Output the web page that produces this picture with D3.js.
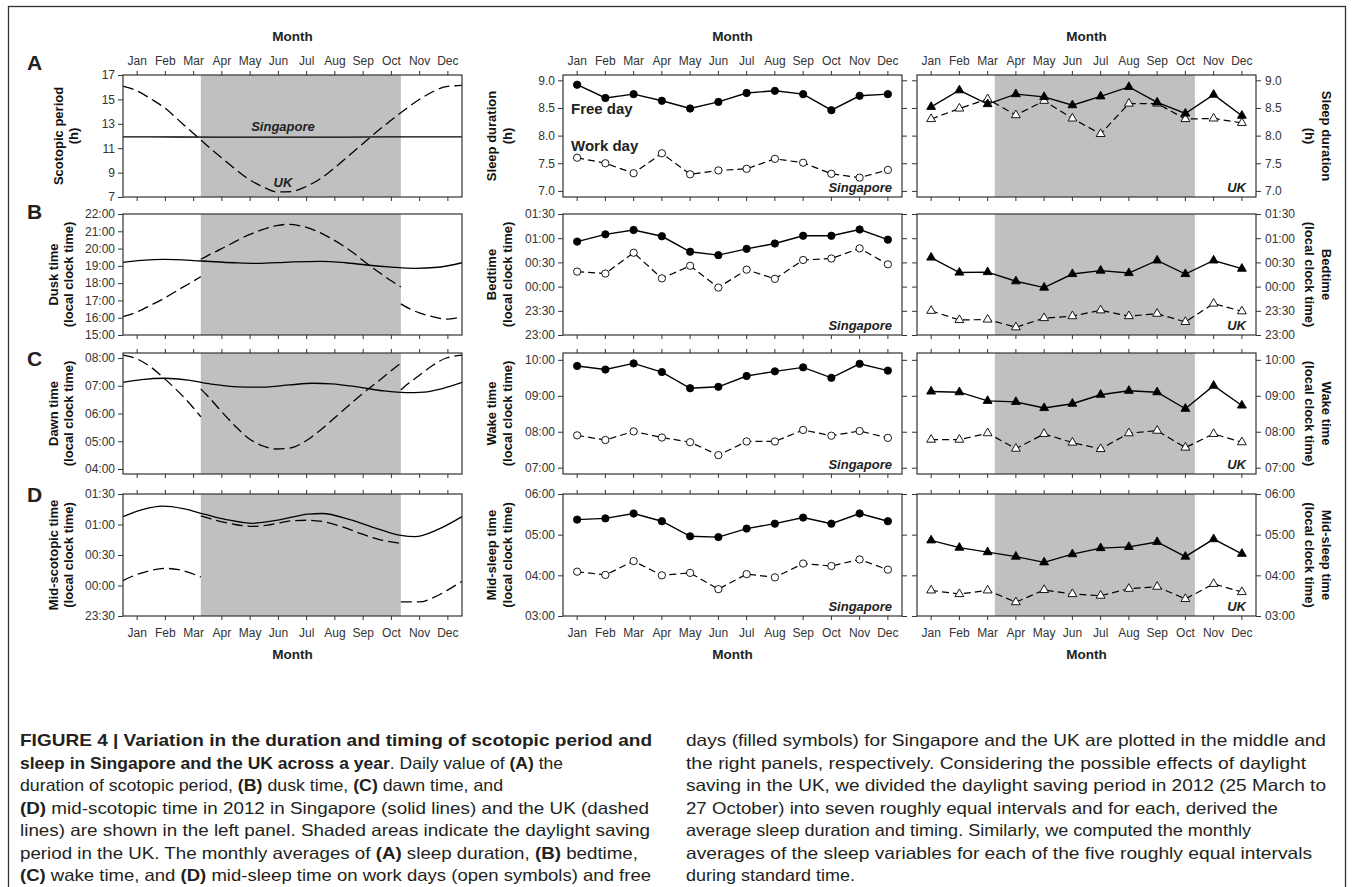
<!DOCTYPE html>
<html>
<head>
<meta charset="utf-8">
<script src="https://cdn.jsdelivr.net/npm/d3@7"></script>
<style>
body { margin: 0; background: #fff; }
svg text { font-family: "Liberation Sans", Arial, sans-serif; fill: #222; }
.tick text { font-size: 12px; fill: #333; }
.tick line { stroke: #333; }
.ttl { font-size: 13px; font-weight: bold; fill: #111; }
.cap { font-family: "Liberation Sans", Arial, sans-serif; font-size: 16.5px; fill: #231f20; }
</style>
</head>
<body>
<script>
// ---- data ----
const months = ["Jan","Feb","Mar","Apr","May","Jun","Jul","Aug","Sep","Oct","Nov","Dec"];
const dstStart = 84, dstEnd = 300;   // 25 Mar, 27 Oct 2012 (day of year)

const sgpScotopic = [[0,11.93],[60,11.92],[120,11.9],[180,11.9],[240,11.91],[300,11.93],[366,11.93]];
const ukScotopic = [[0,16.08],[15,15.7],[31,15.0],[46,14.25],[60,13.3],[74,12.35],[91,11.2],[105,10.3],[121,9.3],[135,8.5],[152,7.8],[166,7.42],[182,7.45],[196,7.8],[213,8.5],[227,9.3],[244,10.4],[258,11.3],[274,12.35],[288,13.2],[305,14.2],[319,14.95],[335,15.65],[349,16.05],[366,16.15]];

const sgpDusk = [[0,19.2],[20,19.32],[45,19.38],[85,19.28],[120,19.18],[145,19.14],[180,19.22],[213,19.26],[240,19.18],[263,19.05],[290,18.93],[315,18.86],[340,18.92],[366,19.18]];
const ukDusk1 = [[0,16.07],[15,16.33],[31,16.75],[46,17.17],[60,17.62],[74,18.05],[84,18.38]];
const ukDuskDst = [[84,19.38],[91,19.58],[105,19.95],[121,20.4],[135,20.78],[152,21.12],[166,21.33],[178,21.4],[190,21.33],[205,21.1],[220,20.72],[236,20.22],[250,19.7],[263,19.15],[277,18.6],[290,18.12],[300,17.78]];
const ukDusk2 = [[300,16.8],[310,16.5],[320,16.28],[335,16.05],[349,15.92],[366,16.05]];

const sgpDawn = [[0,7.12],[20,7.22],[45,7.27],[70,7.2],[95,7.06],[125,6.96],[150,6.95],[180,7.03],[205,7.09],[225,7.07],[255,6.95],[280,6.82],[305,6.75],[325,6.77],[345,6.9],[366,7.12]];
const ukDawn1 = [[0,8.1],[15,7.97],[31,7.65],[46,7.22],[60,6.78],[74,6.28],[84,5.88]];
const ukDawnDst = [[84,6.88],[91,6.65],[105,6.12],[121,5.55],[135,5.12],[152,4.82],[166,4.72],[180,4.75],[196,4.98],[213,5.4],[227,5.8],[244,6.3],[258,6.7],[274,7.12],[288,7.5],[300,7.82]];
const ukDawn2 = [[300,6.85],[305,7.0],[319,7.35],[335,7.75],[349,8.0],[366,8.1]];

// mid-scotopic, hours after midnight (negative = before)
const sgpMidScot = [[0,1.13],[20,1.24],[43,1.3],[65,1.26],[90,1.16],[115,1.07],[140,1.02],[170,1.08],[200,1.17],[215,1.18],[245,1.08],[275,0.93],[300,0.82],[315,0.8],[340,0.92],[366,1.13]];
const ukMidScot1 = [[0,0.08],[15,0.18],[31,0.25],[46,0.28],[60,0.26],[74,0.2],[84,0.14]];
const ukMidScotDst = [[84,1.14],[100,1.07],[121,1.0],[140,0.97],[160,1.0],[182,1.06],[200,1.07],[215,1.05],[235,0.97],[255,0.86],[275,0.76],[300,0.69]];
const ukMidScot2 = [[300,-0.27],[320,-0.27],[335,-0.2],[350,-0.08],[366,0.07]];

// monthly sleep averages (hours; clock times as hours after midnight)
const sgpDurFree  = [8.92,8.68,8.75,8.63,8.49,8.61,8.77,8.81,8.75,8.46,8.72,8.75];
const sgpDurWork  = [7.60,7.50,7.32,7.68,7.30,7.37,7.40,7.58,7.51,7.31,7.24,7.38];
const sgpBedFree  = [0.93,1.08,1.17,1.04,0.72,0.65,0.78,0.89,1.05,1.05,1.18,0.97];
const sgpBedWork  = [0.31,0.27,0.70,0.17,0.43,-0.02,0.35,0.16,0.55,0.58,0.79,0.46];
const sgpWakeFree = [9.83,9.73,9.90,9.66,9.21,9.25,9.55,9.68,9.79,9.50,9.89,9.70];
const sgpWakeWork = [7.90,7.77,8.01,7.84,7.71,7.35,7.73,7.73,8.05,7.89,8.02,7.83];
const sgpMidFree  = [5.37,5.40,5.52,5.33,4.96,4.94,5.15,5.27,5.42,5.27,5.52,5.33];
const sgpMidWork  = [4.09,4.01,4.35,4.00,4.06,3.66,4.03,3.95,4.29,4.23,4.39,4.14];

const ukDurFree  = [8.52,8.82,8.57,8.75,8.70,8.55,8.71,8.88,8.60,8.40,8.74,8.36];
const ukDurWork  = [8.30,8.49,8.66,8.37,8.63,8.31,8.03,8.58,8.58,8.30,8.31,8.23];
const ukBedFree  = [0.60,0.29,0.30,0.11,-0.02,0.26,0.33,0.28,0.54,0.26,0.54,0.37];
const ukBedWork  = [-0.50,-0.69,-0.68,-0.84,-0.65,-0.61,-0.49,-0.61,-0.56,-0.73,-0.35,-0.51];
const ukWakeFree = [9.12,9.10,8.86,8.83,8.66,8.78,9.03,9.14,9.10,8.64,9.28,8.73];
const ukWakeWork = [7.78,7.78,7.96,7.53,7.94,7.70,7.52,7.96,8.03,7.56,7.94,7.71];
const ukMidFree  = [4.86,4.68,4.57,4.46,4.32,4.52,4.67,4.70,4.82,4.46,4.89,4.53];
const ukMidWork  = [3.63,3.54,3.63,3.34,3.64,3.54,3.50,3.67,3.72,3.42,3.79,3.59];

// tick values
const ticksScot = [7,9,11,13,15,17];
const ticksDusk = [15,16,17,18,19,20,21,22];
const ticksDawn = [4,5,6,7,8];
const ticksMidScot = [-0.5,0,0.5,1,1.5];
const ticksDur = [7,7.5,8,8.5,9];
const ticksBed = [-1,-0.5,0,0.5,1,1.5];
const ticksWake = [7,8,9,10];
const ticksMidSleep = [3,4,5,6];

// caption lines: [style, text] runs
const capLeft = [
  [["b","FIGURE 4 | Variation in the duration and timing of scotopic period and"]],
  [["b","sleep in Singapore and the UK across a year"],["r",". Daily value of "],["b","(A)"],["r"," the"]],
  [["r","duration of scotopic period, "],["b","(B)"],["r"," dusk time, "],["b","(C)"],["r"," dawn time, and"]],
  [["b","(D)"],["r"," mid-scotopic time in 2012 in Singapore (solid lines) and the UK (dashed"]],
  [["r","lines) are shown in the left panel. Shaded areas indicate the daylight saving"]],
  [["r","period in the UK. The monthly averages of "],["b","(A)"],["r"," sleep duration, "],["b","(B)"],["r"," bedtime,"]],
  [["b","(C)"],["r"," wake time, and "],["b","(D)"],["r"," mid-sleep time on work days (open symbols) and free"]]
];
const capRight = [
  "days (filled symbols) for Singapore and the UK are plotted in the middle and",
  "the right panels, respectively. Considering the possible effects of daylight",
  "saving in the UK, we divided the daylight saving period in 2012 (25 March to",
  "27 October) into seven roughly equal intervals and for each, derived the",
  "average sleep duration and timing. Similarly, we computed the monthly",
  "averages of the sleep variables for each of the five roughly equal intervals",
  "during standard time."
];
const capLeftEnd = [652,563,503,649,650,638,651];
const capRightEnd = [1326,1306,1326,1278,1251,1312,855];

// ---- layout ----
const W = 1356, H = 887;
const cols = {left:[123,462], mid:[563,902], right:[917,1256]};
const rows = [[75,197],[214,335],[353,474],[494,616]];

const svg = d3.select("body").append("svg").attr("width", W).attr("height", H);

svg.append("rect").attr("x",8.5).attr("y",6.5).attr("width",1337).attr("height",1000)
  .attr("fill","none").attr("stroke","#333").attr("stroke-width",1.3);

const hhmm = v => {
  let m = Math.round(v*60);
  m = ((m % 1440) + 1440) % 1440;
  return String(Math.floor(m/60)).padStart(2,"0") + ":" + String(m%60).padStart(2,"0");
};

function panel(col, row, yDomain, yTicks, fmt, o) {
  const [x0,x1] = cols[col], [y0,y1] = rows[row];
  const xd = d3.scaleLinear().domain([0,366]).range([x0,x1]);
  const xm = d3.scaleBand().domain(months).range([x0,x1]);
  const y = d3.scaleLinear().domain(yDomain).range([y1,y0]);
  const g = svg.append("g");
  if (o.shade) {
    g.append("rect").attr("x",xd(dstStart)).attr("y",y0)
      .attr("width",xd(dstEnd)-xd(dstStart)).attr("height",y1-y0).attr("fill","#c0c0c0");
  }
  const data = g.append("g");
  g.append("rect").attr("x",x0).attr("y",y0).attr("width",x1-x0).attr("height",y1-y0)
    .attr("fill","none").attr("stroke","#333").attr("stroke-width",1.2);
  const none = () => "";
  if (o.left) {
    g.append("g").attr("transform",`translate(${x0},0)`)
      .call(d3.axisLeft(y).tickValues(yTicks).tickFormat(o.left === "labels" ? fmt : none).tickSize(5).tickPadding(3).tickSizeOuter(0))
      .call(a => a.select(".domain").remove());
  }
  if (o.right) {
    g.append("g").attr("transform",`translate(${x1},0)`)
      .call(d3.axisRight(y).tickValues(yTicks).tickFormat(o.right === "labels" ? fmt : none).tickSize(5).tickPadding(4).tickSizeOuter(0))
      .call(a => a.select(".domain").remove());
  }
  g.append("g").attr("transform",`translate(0,${y1})`)
    .call(d3.axisBottom(xm).tickFormat(o.bottom === "labels" ? d => d : none).tickSize(4).tickPadding(8).tickSizeOuter(0))
    .call(a => a.select(".domain").remove());
  if (o.top) {
    g.append("g").attr("transform",`translate(0,${y0})`)
      .call(d3.axisTop(xm).tickFormat(o.top === "labels" ? d => d : none).tickSize(4).tickPadding(6).tickSizeOuter(0))
      .call(a => a.select(".domain").remove());
  }
  return {g: data, xd, xm, y, x0, x1, y0, y1};
}

function curve(p, pts, dashed) {
  p.g.append("path").datum(pts)
    .attr("d", d3.line().x(d => p.xd(d[0])).y(d => p.y(d[1])).curve(d3.curveMonotoneX))
    .attr("fill","none").attr("stroke","#000").attr("stroke-width",1.3)
    .attr("stroke-dasharray", dashed ? "11,5" : null);
}

function series(p, vals, filled, shape) {
  const cx = i => p.xm(months[i]) + p.xm.bandwidth()/2;
  p.g.append("path").datum(vals)
    .attr("d", d3.line().x((d,i) => cx(i)).y(d => p.y(d)))
    .attr("fill","none").attr("stroke","#000").attr("stroke-width",filled ? 1.4 : 1.2)
    .attr("stroke-dasharray", filled ? null : "7,4");
  const sym = d3.symbol().type(shape === "tri" ? d3.symbolTriangle : d3.symbolCircle).size(shape === "tri" ? 34 : 42);
  p.g.selectAll(null).data(vals).join("path")
    .attr("d", sym)
    .attr("transform", (d,i) => `translate(${cx(i)},${p.y(d)})`)
    .attr("fill", filled ? "#000" : "#fff")
    .attr("stroke","#000").attr("stroke-width",0.9);
}

function ytitle(x, cy, lines, rot) {
  lines.forEach((t,i) => {
    svg.append("text").attr("class","ttl")
      .attr("transform",`translate(${x[i]},${cy}) rotate(${rot})`)
      .attr("text-anchor","middle").attr("dy","0.35em").text(t);
  });
}

function tag(p, txt) {
  p.g.append("text").attr("x",p.x1-10).attr("y",p.y1-5).attr("text-anchor","end")
    .style("font-size","13px").style("font-weight","bold").style("font-style","italic").attr("fill","#111").text(txt);
}

const f1 = d3.format(".1f");
const fd = d3.format("d");

// ---- left column ----
const lA = panel("left",0,[7,17],ticksScot,fd,{shade:true,left:"labels",top:"labels"});
curve(lA, sgpScotopic, false);
curve(lA, ukScotopic, true);
lA.g.append("text").attr("x",283).attr("y",131).attr("text-anchor","middle")
  .style("font-size","13px").style("font-weight","bold").style("font-style","italic").text("Singapore");
lA.g.append("text").attr("x",283).attr("y",187).attr("text-anchor","middle")
  .style("font-size","13px").style("font-weight","bold").style("font-style","italic").text("UK");

const lB = panel("left",1,[15,22],ticksDusk,hhmm,{shade:true,left:"labels"});
curve(lB, sgpDusk, false);
[ukDusk1, ukDuskDst, ukDusk2].forEach(s => curve(lB, s, true));

const lC = panel("left",2,[3.82,8.18],ticksDawn,hhmm,{shade:true,left:"labels",top:"ticks"});
curve(lC, sgpDawn, false);
[ukDawn1, ukDawnDst, ukDawn2].forEach(s => curve(lC, s, true));

const lD = panel("left",3,[-0.5,1.5],ticksMidScot,hhmm,{shade:true,left:"labels",top:"ticks",bottom:"labels"});
curve(lD, sgpMidScot, false);
[ukMidScot1, ukMidScotDst, ukMidScot2].forEach(s => curve(lD, s, true));

// ---- middle column (Singapore) ----
const mA = panel("mid",0,[6.89,9.096],ticksDur,f1,{left:"labels",right:"ticks",top:"labels"});
series(mA, sgpDurFree, true, "circle");
series(mA, sgpDurWork, false, "circle");
mA.g.append("text").attr("x",571).attr("y",114).style("font-size","15px").style("font-weight","bold").attr("fill","#111").text("Free day");
mA.g.append("text").attr("x",571).attr("y",151).style("font-size","15px").style("font-weight","bold").attr("fill","#111").text("Work day");
tag(mA,"Singapore");

const mB = panel("mid",1,[-1,1.5],ticksBed,hhmm,{left:"labels",right:"ticks"});
series(mB, sgpBedFree, true, "circle");
series(mB, sgpBedWork, false, "circle");
tag(mB,"Singapore");

const mC = panel("mid",2,[6.825,10.19],ticksWake,hhmm,{left:"labels",right:"ticks",top:"ticks"});
series(mC, sgpWakeFree, true, "circle");
series(mC, sgpWakeWork, false, "circle");
tag(mC,"Singapore");

const mD = panel("mid",3,[3,6],ticksMidSleep,hhmm,{left:"labels",right:"ticks",top:"ticks",bottom:"labels"});
series(mD, sgpMidFree, true, "circle");
series(mD, sgpMidWork, false, "circle");
tag(mD,"Singapore");

// ---- right column (UK) ----
const rA = panel("right",0,[6.89,9.096],ticksDur,f1,{shade:true,left:"ticks",right:"labels",top:"labels"});
series(rA, ukDurWork, false, "tri");
series(rA, ukDurFree, true, "tri");
tag(rA,"UK");

const rB = panel("right",1,[-1,1.5],ticksBed,hhmm,{shade:true,left:"ticks",right:"labels"});
series(rB, ukBedFree, true, "tri");
series(rB, ukBedWork, false, "tri");
tag(rB,"UK");

const rC = panel("right",2,[6.825,10.19],ticksWake,hhmm,{shade:true,left:"ticks",right:"labels",top:"ticks"});
series(rC, ukWakeFree, true, "tri");
series(rC, ukWakeWork, false, "tri");
tag(rC,"UK");

const rD = panel("right",3,[3,6],ticksMidSleep,hhmm,{shade:true,left:"ticks",right:"labels",top:"ticks",bottom:"labels"});
series(rD, ukMidFree, true, "tri");
series(rD, ukMidWork, false, "tri");
tag(rD,"UK");

// ---- axis titles ----
ytitle([58,73],136,["Scotopic period","(h)"],-90);
ytitle([53,68],274.5,["Dusk time","(local clock time)"],-90);
ytitle([53,68],413.5,["Dawn time","(local clock time)"],-90);
ytitle([53,68],555,["Mid-scotopic time","(local clock time)"],-90);

ytitle([491,507],136,["Sleep duration","(h)"],-90);
ytitle([491,507],274.5,["Bedtime","(local clock time)"],-90);
ytitle([491,507],413.5,["Wake time","(local clock time)"],-90);
ytitle([491,507],555,["Mid-sleep time","(local clock time)"],-90);

ytitle([1327,1310],136,["Sleep duration","(h)"],90);
ytitle([1327,1310],274.5,["Bedtime","(local clock time)"],90);
ytitle([1327,1310],413.5,["Wake time","(local clock time)"],90);
ytitle([1327,1310],555,["Mid-sleep time","(local clock time)"],90);

// "Month" titles and panel letters
Object.values(cols).forEach(([a,b]) => {
  svg.append("text").attr("x",(a+b)/2).attr("y",41).attr("text-anchor","middle")
    .style("font-size","13.5px").style("font-weight","bold").attr("fill","#111").text("Month");
  svg.append("text").attr("x",(a+b)/2).attr("y",659).attr("text-anchor","middle")
    .style("font-size","13.5px").style("font-weight","bold").attr("fill","#111").text("Month");
});
[["A",62],["B",211],["C",358],["D",494]].forEach(([l,cy]) => {
  svg.append("text").attr("x",27).attr("y",cy).attr("dy","0.36em")
    .style("font-size","21px").style("font-weight","bold").attr("fill","#000").text(l);
});

// ---- caption ----
capLeft.forEach((runs,i) => {
  const t = svg.append("text").attr("class","cap").attr("x",20).attr("y",746 + i*22.5)
    .attr("textLength", capLeftEnd[i]-20).attr("lengthAdjust","spacingAndGlyphs");
  runs.forEach(([s,txt]) => t.append("tspan").style("font-weight", s === "b" ? "bold" : "normal").text(txt));
});
capRight.forEach((txt,i) => {
  svg.append("text").attr("class","cap").attr("x",686).attr("y",746 + i*22.5)
    .attr("textLength", capRightEnd[i]-686).attr("lengthAdjust","spacingAndGlyphs").text(txt);
});
</script>
</body>
</html>
